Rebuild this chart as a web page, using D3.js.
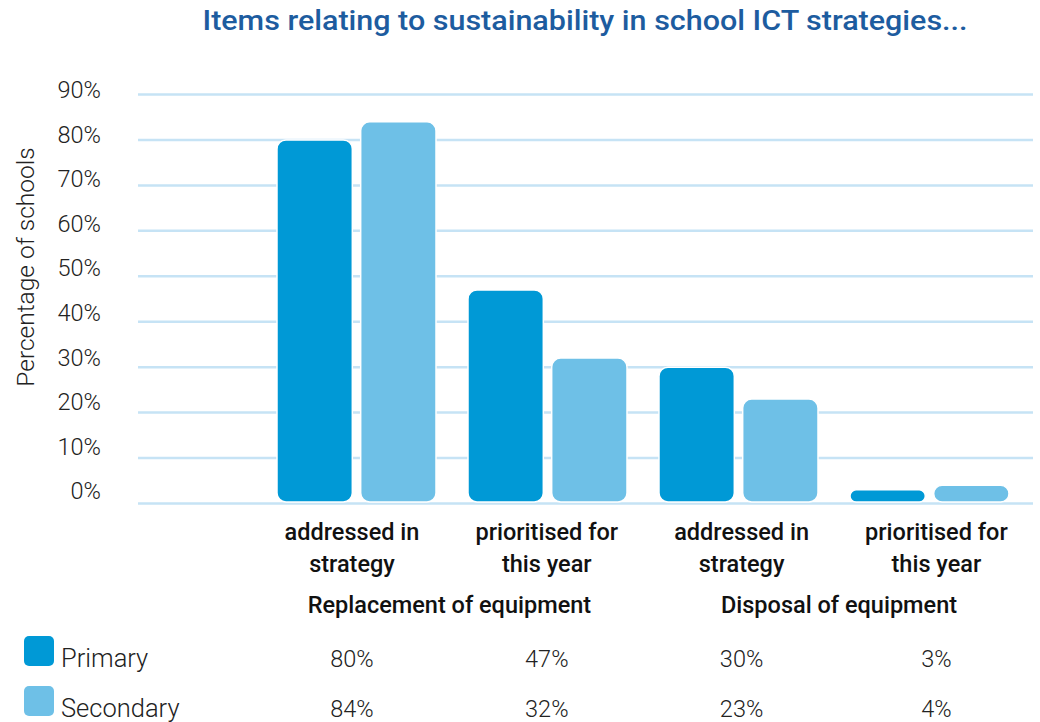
<!DOCTYPE html>
<html><head><meta charset="utf-8">
<script src="https://cdn.jsdelivr.net/npm/d3@7"></script>
<style>body{margin:0;background:#fff}svg{display:block}</style>
</head><body>
<svg id="c" width="1040" height="722"></svg>
<script>
const title = "Items relating to sustainability in school ICT strategies...";
const yTitle = "Percentage of schools";
const categories = ["A1","A2","D1","D2"];
const categoryLines = [["addressed in","strategy"],["prioritised for","this year"],["addressed in","strategy"],["prioritised for","this year"]];
const groups = ["Replacement of equipment","Disposal of equipment"];
const groupMembers = [["A1","A2"],["D1","D2"]];
const seriesNames = ["Primary","Secondary"];
const primary = [80,47,30,3];
const secondary = [84,32,23,4];
const yTicks = [0,10,20,30,40,50,60,70,80,90];
const colors = ["#0099d6","#6ec0e7"];

const svg = d3.select("#c");
const FONT = "Roboto, 'Open Sans', sans-serif";

const y = d3.scaleLinear().domain([0,90]).range([503.5,94.5]);
const yLab = d3.scaleLinear().domain([0,90]).range([491,89.5]);
const x = d3.scaleBand().domain(categories).range([261,1025]).paddingInner(0.1675).paddingOuter(0.08375);
const xs = d3.scaleBand().domain(seriesNames).range([0,x.bandwidth()]).paddingInner(0.1);
// text columns (labels and table) sit on a slightly wider grid than the bars
const xLab = d3.scaleBand().domain(categories).range([254.6,1033.8]);
const colC = d => xLab(d)+xLab.bandwidth()/2;

// title
svg.append("text").attr("x",585).attr("y",30).attr("text-anchor","middle")
  .attr("font-family",FONT).attr("font-size",27).attr("font-weight",500).attr("fill","#1d5c9f")
  .attr("textLength",765).attr("lengthAdjust","spacingAndGlyphs").text(title);

// gridlines
svg.append("g").selectAll("line").data(yTicks).join("line")
  .attr("x1",138).attr("x2",1033).attr("y1",d=>y(d)).attr("y2",d=>y(d))
  .attr("stroke","#c6e3f5").attr("stroke-width",2.5);

// y tick labels
svg.append("g").selectAll("text").data(yTicks).join("text")
  .attr("x",101).attr("y",d=>yLab(d)).attr("dy","0.36em").attr("text-anchor","end")
  .attr("font-family",FONT).attr("font-size",23.5).attr("font-weight",300).attr("fill","#222")
  .text(d=>d+"%");

// y title
svg.append("text").attr("transform","translate(34,267) rotate(-90)").attr("text-anchor","middle")
  .attr("font-family",FONT).attr("font-size",24.5).attr("font-weight",300).attr("fill","#222")
  .text(yTitle);

// bars
const rows = categories.map((c,i)=>({c, vals:[primary[i],secondary[i]]}));
const gb = svg.append("g");
rows.forEach(r=>{
  r.vals.forEach((v,j)=>{
    const top = y(v), bot = y(0)-1.5;
    const h = bot-top;
    gb.append("rect").attr("x",x(r.c)+xs(seriesNames[j])).attr("y",top)
      .attr("width",xs.bandwidth()).attr("height",h)
      .attr("rx",Math.min(9,h/2)).attr("fill",colors[j])
      .attr("stroke","#fff").attr("stroke-width",1.5);
  });
});

// category labels
const gl = svg.append("g").attr("font-family",FONT).attr("font-size",23.5).attr("font-weight",500).attr("fill","#111").attr("text-anchor","middle");
categories.forEach((c,i)=>{
  categoryLines[i].forEach((t,k)=>{
    gl.append("text").attr("x",colC(c)).attr("y",540+k*32).text(t);
  });
});
groups.forEach((g,i)=>{
  const m = groupMembers[i];
  const cx = (colC(m[0]) + colC(m[1]))/2;
  gl.append("text").attr("x",cx).attr("y",613).text(g);
});

// table / legend
const tableRowsY = [667,717];
const seriesVals = [primary,secondary];
seriesNames.forEach((s,j)=>{
  svg.append("rect").attr("x",24).attr("y",tableRowsY[j]-31).attr("width",30).attr("height",30)
    .attr("rx",5).attr("fill",colors[j]);
  svg.append("text").attr("x",61).attr("y",tableRowsY[j]).attr("font-family",FONT)
    .attr("font-size",25.5).attr("font-weight",300).attr("fill","#222").text(s);
  svg.append("g").selectAll("text").data(categories).join("text")
    .attr("x",d=>colC(d)).attr("y",tableRowsY[j]).attr("text-anchor","middle")
    .attr("font-family",FONT).attr("font-size",23.5).attr("font-weight",300).attr("fill","#222")
    .text((d,i)=>seriesVals[j][i]+"%");
});
</script>
</body></html>
